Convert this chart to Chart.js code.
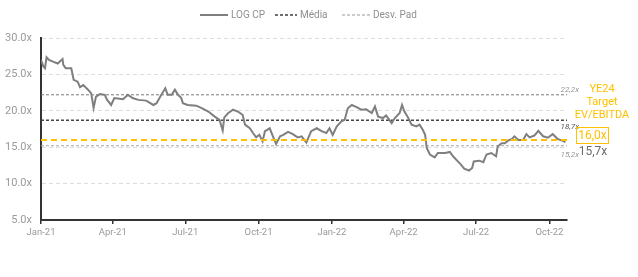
<!DOCTYPE html>
<html>
<head>
<meta charset="utf-8">
<title>LOG CP - EV/EBITDA</title>
<script src="https://cdn.jsdelivr.net/npm/chart.js@4/dist/chart.umd.min.js"></script>
<style>
    html, body { margin: 0; padding: 0; background: #ffffff; overflow: hidden; }
    #ev-ebitda-chart { display: block; }
</style>
</head>
<body>
<canvas id="ev-ebitda-chart" width="638" height="277"></canvas>
<script>
// --- Data ---
const dates = [
    '2021-01-01', '2021-01-04', '2021-01-06', '2021-01-08', '2021-01-11', '2021-01-16', '2021-01-22', '2021-01-28',
    '2021-01-29', '2021-02-01', '2021-02-08', '2021-02-11', '2021-02-16', '2021-02-19', '2021-02-23', '2021-03-01',
    '2021-03-05', '2021-03-08', '2021-03-11', '2021-03-16', '2021-03-22', '2021-03-25', '2021-03-30', '2021-04-03',
    '2021-04-14', '2021-04-20', '2021-04-26', '2021-05-03', '2021-05-13', '2021-05-22', '2021-05-26', '2021-06-01',
    '2021-06-06', '2021-06-09', '2021-06-14', '2021-06-18', '2021-06-22', '2021-06-26', '2021-06-28', '2021-07-04',
    '2021-07-15', '2021-07-21', '2021-07-30', '2021-08-07', '2021-08-13', '2021-08-17', '2021-08-19', '2021-08-24',
    '2021-08-30', '2021-09-05', '2021-09-11', '2021-09-14', '2021-09-20', '2021-09-24', '2021-09-28', '2021-10-02',
    '2021-10-06', '2021-10-09', '2021-10-15', '2021-10-19', '2021-10-23', '2021-10-28', '2021-11-01', '2021-11-07',
    '2021-11-13', '2021-11-19', '2021-11-24', '2021-11-30', '2021-12-06', '2021-12-13', '2021-12-19', '2021-12-25',
    '2021-12-29', '2022-01-02', '2022-01-07', '2022-01-13', '2022-01-17', '2022-01-21', '2022-01-26', '2022-02-01',
    '2022-02-07', '2022-02-13', '2022-02-20', '2022-02-24', '2022-02-28', '2022-03-06', '2022-03-10', '2022-03-17',
    '2022-03-21', '2022-03-27', '2022-03-30', '2022-04-02', '2022-04-06', '2022-04-11', '2022-04-17', '2022-04-21',
    '2022-04-25', '2022-04-28', '2022-04-30', '2022-05-04', '2022-05-10', '2022-05-14', '2022-05-23', '2022-05-29',
    '2022-06-02', '2022-06-08', '2022-06-12', '2022-06-16', '2022-06-22', '2022-06-26', '2022-06-28', '2022-07-05',
    '2022-07-10', '2022-07-14', '2022-07-20', '2022-07-26', '2022-07-28', '2022-08-02', '2022-08-06', '2022-08-10',
    '2022-08-15', '2022-08-18', '2022-08-23', '2022-08-29', '2022-09-02', '2022-09-06', '2022-09-12', '2022-09-17',
    '2022-09-23', '2022-09-29', '2022-10-05', '2022-10-11', '2022-10-17', '2022-10-21'
];

const logCP = [
    27.0, 26.1, 25.85, 27.35, 27.0, 26.75, 26.5, 27.1,
    26.3, 25.85, 25.85, 24.25, 24.0, 23.25, 23.55, 22.9,
    22.4, 20.4, 21.95, 22.3, 22.2, 21.5, 20.8, 21.75,
    21.6, 22.2, 21.75, 21.5, 21.4, 20.8, 21.05, 22.2,
    23.1, 22.2, 22.2, 22.9, 22.2, 21.75, 21.05, 20.8,
    20.7, 20.4, 19.9, 19.2, 18.75, 17.3, 19.1, 19.7,
    20.15, 19.9, 19.45, 18.1, 17.6, 16.95, 16.35, 16.7,
    15.8, 17.2, 17.6, 16.5, 15.45, 16.5, 16.7, 17.1,
    16.8, 16.35, 16.5, 15.65, 17.2, 17.6, 17.2, 16.95,
    17.6, 16.7, 17.85, 18.55, 18.75, 20.35, 20.8, 20.5,
    20.15, 20.2, 19.7, 20.6, 19.2, 19.0, 19.35, 18.3,
    19.0, 19.7, 20.8, 19.9, 19.2, 18.1, 17.85, 18.1,
    17.4, 16.7, 14.9, 14.0, 13.6, 14.2, 14.2, 14.35,
    13.75, 13.05, 12.6, 12.05, 11.8, 12.15, 13.05, 13.15,
    12.95, 14.0, 14.2, 13.75, 15.1, 15.55, 15.55, 15.9,
    16.15, 16.5, 16.0, 16.0, 16.8, 16.35, 16.6, 17.25,
    16.5, 16.3, 16.8, 16.15, 15.9, 15.7
];

const tickDates = ['2021-01-01', '2021-04-01', '2021-07-01', '2021-10-01', '2022-01-01', '2022-04-01', '2022-07-01', '2022-10-01'];
const tickLabels = ['Jan-21', 'Apr-21', 'Jul-21', 'Oct-21', 'Jan-22', 'Apr-22', 'Jul-22', 'Oct-22'];
const axisEndDate = '2022-10-23';

const mediaValue = 18.7;   // Média
const upperValue = 22.2;   // + Desv. Pad
const lowerValue = 15.2;   // - Desv. Pad
const targetValue = 16.0;  // YE24 Target EV/EBITDA
const lastValue = 15.7;

const yMin = 5;
const yMax = 30;
const yStep = 5;

// --- Helpers ---
const START = Date.parse('2021-01-01');
const dayOf = (d) => (Date.parse(d) - START) / 86400000;
const fmt = (v) => v.toFixed(1).replace('.', ',') + 'x';

const tickDays = tickDates.map(dayOf);
const xMax = dayOf(axisEndDate);
const seriesPoints = dates.map((d, i) => ({ x: dayOf(d), y: logCP[i] }));
const flatLine = (v) => [{ x: 0, y: v }, { x: xMax, y: v }];

const FONT = 'Roboto, "Noto Sans", sans-serif';

// Draws the small legend row at the top of the chart.
const legendRow = {
    id: 'legendRow',
    afterDraw(chart) {
        const ctx = chart.ctx;
        const y = 15;
        const items = [
            { x0: 200, x1: 228, color: '#7f7f7f', width: 2, dash: [], text: 'LOG CP' },
            { x0: 275, x1: 297, color: '#404040', width: 1.5, dash: [3, 2], text: 'Média' },
            { x0: 342, x1: 370, color: '#9a9a9a', width: 1.2, dash: [3, 2], text: 'Desv. Pad' }
        ];
        ctx.save();
        ctx.font = '10px ' + FONT;
        ctx.textBaseline = 'middle';
        ctx.textAlign = 'left';
        items.forEach(item => {
            ctx.beginPath();
            ctx.setLineDash(item.dash);
            ctx.lineWidth = item.width;
            ctx.strokeStyle = item.color;
            ctx.moveTo(item.x0, y);
            ctx.lineTo(item.x1, y);
            ctx.stroke();
            ctx.setLineDash([]);
            ctx.fillStyle = '#8f8f8f';
            ctx.fillText(item.text, item.x1 + 3, y);
        });
        ctx.restore();
    }
};

// Value labels on the right side of the plot.
const sideLabels = {
    id: 'sideLabels',
    afterDraw(chart) {
        const ctx = chart.ctx;
        const yScale = chart.scales.y;
        const right = chart.chartArea.right;
        ctx.save();

        // small italic band labels
        ctx.font = 'italic 8px ' + FONT;
        ctx.fillStyle = '#9a9a9a';
        ctx.textAlign = 'right';
        ctx.textBaseline = 'bottom';
        ctx.fillText(fmt(upperValue), right + 12, yScale.getPixelForValue(upperValue) - 1);
        ctx.fillStyle = '#555555';
        ctx.fillText(fmt(mediaValue), right + 12, yScale.getPixelForValue(mediaValue) + 11);
        ctx.fillStyle = '#9a9a9a';
        ctx.textBaseline = 'top';
        ctx.fillText(fmt(lowerValue), right + 12, yScale.getPixelForValue(lowerValue) + 5);

        // target block
        const cx = 602;
        ctx.fillStyle = '#FFC000';
        ctx.font = '11px ' + FONT;
        ctx.textAlign = 'center';
        ctx.textBaseline = 'middle';
        ctx.fillText('YE24', cx, 89);
        ctx.fillText('Target', cx, 102);
        ctx.fillText('EV/EBITDA', cx, 115);

        const ty = 135.5;
        ctx.strokeStyle = '#FFC000';
        ctx.lineWidth = 1;
        ctx.strokeRect(576.5, ty - 8, 32, 16);
        ctx.font = '12px ' + FONT;
        ctx.fillText(fmt(targetValue), 592.5, ty + 0.5);

        ctx.fillStyle = '#6b6b6b';
        ctx.fillText(fmt(lastValue), 593, 152);
        ctx.restore();
    }
};

const ctx = document.getElementById('ev-ebitda-chart');

new Chart(ctx, {
    type: 'line',
    data: {
        datasets: [
            {
                label: 'LOG CP',
                data: seriesPoints,
                borderColor: '#7f7f7f',
                borderWidth: 2,
                pointRadius: 0,
                tension: 0,
                order: 2
            },
            {
                label: 'Média',
                data: flatLine(mediaValue),
                borderColor: '#454545',
                borderWidth: 1.5,
                borderDash: [3, 2],
                pointRadius: 0,
                order: 3
            },
            {
                label: 'Desv. Pad',
                data: flatLine(upperValue),
                borderColor: '#7a7a7a',
                borderWidth: 1,
                borderDash: [3, 2],
                pointRadius: 0,
                order: 3
            },
            {
                label: 'Desv. Pad -',
                data: flatLine(lowerValue),
                borderColor: '#a6a6a6',
                borderWidth: 1.2,
                borderDash: [3, 2],
                pointRadius: 0,
                order: 3
            },
            {
                label: 'Target',
                data: flatLine(targetValue),
                borderColor: '#FFC000',
                borderWidth: 2,
                borderDash: [6, 4],
                pointRadius: 0,
                order: 1
            }
        ]
    },
    options: {
        responsive: false,
        animation: false,
        maintainAspectRatio: false,
        layout: { padding: { top: 38, right: 71, left: 0, bottom: 0 } },
        plugins: {
            legend: { display: false },
            tooltip: { enabled: false }
        },
        scales: {
            x: {
                type: 'linear',
                min: 0,
                max: xMax,
                afterBuildTicks: (scale) => {
                    scale.ticks = tickDays.map(v => ({ value: v }));
                },
                afterFit: (scale) => { scale.height = 57; },
                ticks: {
                    autoSkip: false,
                    maxRotation: 0,
                    padding: 3,
                    color: '#9a9a9a',
                    font: { family: FONT, size: 9.5 },
                    callback: (value) => {
                        const i = tickDays.indexOf(value);
                        return i >= 0 ? tickLabels[i] : '';
                    }
                },
                grid: {
                    drawOnChartArea: false,
                    drawTicks: true,
                    tickLength: 4,
                    color: '#333333',
                    lineWidth: 1.5
                },
                border: { color: '#333333', width: 2 }
            },
            y: {
                min: yMin,
                max: yMax,
                afterFit: (scale) => { scale.width = 41; },
                ticks: {
                    stepSize: yStep,
                    padding: 9,
                    color: '#9a9a9a',
                    font: { family: FONT, size: 11 },
                    callback: (value) => value.toFixed(1) + 'x'
                },
                grid: {
                    drawTicks: false,
                    color: '#dcdcdc',
                    lineWidth: 1
                },
                border: { color: '#333333', width: 2, dash: [4, 3] }
            }
        }
    },
    plugins: [legendRow, sideLabels]
});
</script>
</body>
</html>
